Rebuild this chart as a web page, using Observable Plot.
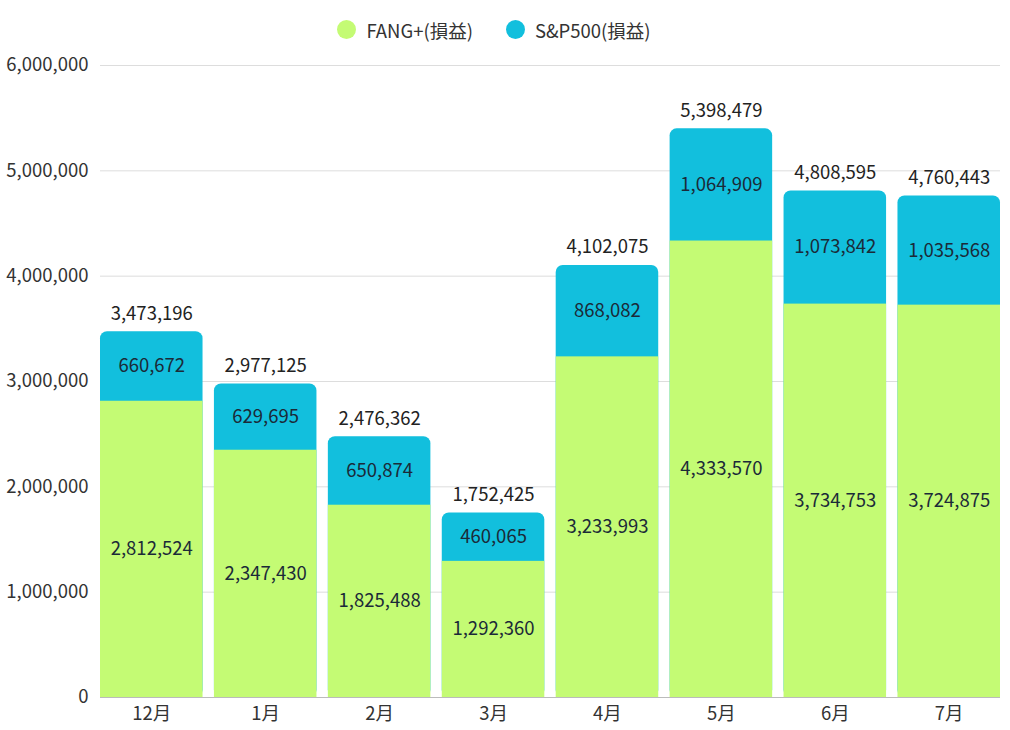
<!DOCTYPE html>
<html>
<head>
<meta charset="utf-8">
<script src="https://cdn.jsdelivr.net/npm/d3@7"></script>
<script src="https://cdn.jsdelivr.net/npm/@observablehq/plot@0.6"></script>
<style>
  body { margin: 0; background: #fff; font-family: "Noto Sans CJK JP", "Noto Sans", sans-serif; }
  #legend { height: 50px; display: flex; justify-content: center; align-items: center; gap: 33px; font-size: 18.5px; color: #333; padding-right: 22px; box-sizing: border-box; padding-top: 9px; }
  .item { display: flex; align-items: center; gap: 10px; }
  .sw { width: 19px; height: 19px; border-radius: 50%; display: inline-block; }
</style>
</head>
<body>
<div id="legend"></div>
<div id="chart"></div>
<script>
const months = ["12月", "1月", "2月", "3月", "4月", "5月", "6月", "7月"];
const fang = [2812524, 2347430, 1825488, 1292360, 3233993, 4333570, 3734753, 3724875];
const sp = [660672, 629695, 650874, 460065, 868082, 1064909, 1073842, 1035568];
const totals = [3473196, 2977125, 2476362, 1752425, 4102075, 5398479, 4808595, 4760443];
const seriesNames = ["FANG+(損益)", "S&P500(損益)"];
const colors = ["#c4fb74", "#12bfdd"];
const yTicks = [0, 1000000, 2000000, 3000000, 4000000, 5000000, 6000000];

const rows = months.map((m, i) => ({month: m, fang: fang[i], sp: sp[i], total: totals[i]}));
const fmt = d3.format(",");

const legend = document.getElementById("legend");
seriesNames.forEach((n, i) => {
  const it = document.createElement("div");
  it.className = "item";
  it.innerHTML = `<span class="sw" style="background:${colors[i]}"></span><span></span>`;
  it.lastChild.textContent = n;
  legend.appendChild(it);
});

const chart = Plot.plot({
  width: 1010,
  height: 680,
  marginTop: 15,
  marginBottom: 33,
  marginLeft: 100,
  marginRight: 10,
  style: {fontFamily: "'Noto Sans CJK JP', 'Noto Sans', sans-serif", fontSize: "18.5px", color: "#333", background: "#fff"},
  x: {domain: months, paddingInner: 0.1, paddingOuter: 0, round: false, label: null, tickSize: 0, tickPadding: 9},
  y: {domain: [0, 6000000], label: null, ticks: yTicks, tickFormat: fmt, tickSize: 0, tickPadding: 12},
  marks: [
    Plot.gridY(yTicks, {stroke: "#ddd", strokeOpacity: 1}),
    Plot.barY(rows, {x: "month", y: "total", fill: colors[1], rx: 7}),
    Plot.barY(rows, {x: "month", y: "fang", fill: colors[0]}),
    Plot.ruleY([0], {stroke: "#bbb"}),
    Plot.text(rows, {x: "month", y: "total", text: d => fmt(d.total), dy: -18, fill: "#222", fontSize: 18.5}),
    Plot.text(rows, {x: "month", y: d => d.fang + d.sp / 2, text: d => fmt(d.sp), fill: "#1b2a38", fontSize: 18.5}),
    Plot.text(rows, {x: "month", y: d => d.fang / 2, text: d => fmt(d.fang), fill: "#1b2a38", fontSize: 18.5})
  ]
});
document.getElementById("chart").appendChild(chart);
</script>
</body>
</html>
